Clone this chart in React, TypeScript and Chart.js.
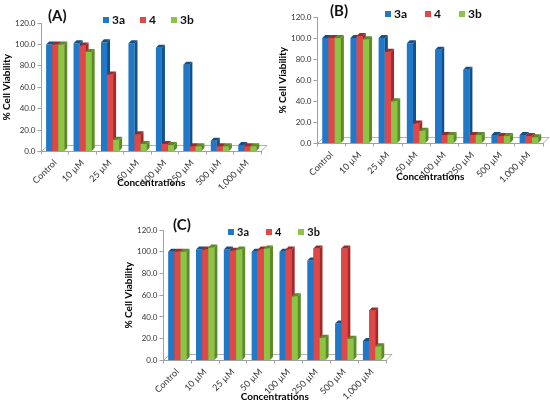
import { useEffect, useRef } from "react";
import { Chart, registerables } from "chart.js";

Chart.register(...registerables);

const CONCENTRATIONS = ["Control", "10 µM", "25 µM", "50 µM", "100 µM", "250 µM", "500 µM", "1,000 µM"];
const SERIES = ["3a", "4", "3b"];

// panel (A)
const A_3A = [100, 101, 102, 101, 97, 81, 10, 6];
const A_4 = [100, 99, 72, 16, 7, 5, 5, 5];
const A_3B = [100, 93, 11, 7, 6, 5, 5, 5];
// panel (B)
const B_3A = [100, 100, 100, 95, 89, 70, 8, 8];
const B_4 = [100, 102, 87, 19, 8, 8, 7, 7];
const B_3B = [100, 99, 40, 12, 8, 8, 7, 6];
// panel (C)
const C_3A = [100, 102, 102, 100, 100, 92, 34, 18];
const C_4 = [100, 102, 101, 102, 102, 103, 103, 46];
const C_3B = [100, 104, 102, 103, 59, 21, 20, 13];

const COLORS = ["#1f78c8", "#e04848", "#8cc443"];
const SIDES = ["#144f86", "#9e2a2a", "#5c8a28"];
const DEPTH = 3;

// fake 3D: right side and top face of each bar, drawn so the next series hides it
const depthPlugin = {
  id: "depth",
  beforeDatasetsDraw(chart: any) {
    const { ctx, chartArea } = chart;
    const { left, right, bottom } = chartArea;
    ctx.save();
    ctx.strokeStyle = "#b0b0b0";
    ctx.lineWidth = 1;
    ctx.beginPath();
    ctx.moveTo(left, bottom);
    ctx.lineTo(left + DEPTH * 2, bottom - DEPTH * 2);
    ctx.lineTo(right + DEPTH * 2, bottom - DEPTH * 2);
    ctx.lineTo(right, bottom);
    ctx.stroke();
    ctx.restore();
  },
  afterDatasetsDraw(chart: any) {
    const { ctx } = chart;
    const n = chart.data.datasets.length;
    for (let i = 0; i < n; i++) {
      const meta = chart.getDatasetMeta(i);
      ctx.save();
      ctx.fillStyle = SIDES[i];
      meta.data.forEach((bar: any) => {
        const { x, y, base, width } = bar.getProps(["x", "y", "base", "width"], true);
        const l = x - width / 2;
        const r = x + width / 2;
        ctx.beginPath();
        ctx.moveTo(r, y);
        ctx.lineTo(r + DEPTH, y - DEPTH);
        ctx.lineTo(r + DEPTH, base - DEPTH);
        ctx.lineTo(r, base);
        ctx.closePath();
        ctx.fill();
        ctx.beginPath();
        ctx.moveTo(l, y);
        ctx.lineTo(l + DEPTH, y - DEPTH);
        ctx.lineTo(r + DEPTH, y - DEPTH);
        ctx.lineTo(r, y);
        ctx.closePath();
        ctx.fill();
      });
      ctx.restore();
      if (i + 1 < n) {
        chart.getDatasetMeta(i + 1).data.forEach((bar: any) => bar.draw(ctx));
      }
    }
  },
};

type PanelProps = {
  label: string;
  values: number[][];
  box: { left: number; top: number; width: number; height: number };
  pad: { left: number; right: number; top: number; bottom: number };
  titleShift: number;
  labelPos: { left: number; top: number };
  legendPos: { left: number; top: number; size: number; gap: number };
};

function Panel({ label, values, box, pad, titleShift, labelPos, legendPos }: PanelProps) {
  const canvasRef = useRef<HTMLCanvasElement>(null);

  useEffect(() => {
    if (!canvasRef.current) return;
    const chart = new Chart(canvasRef.current, {
      type: "bar",
      data: {
        labels: CONCENTRATIONS,
        datasets: SERIES.map((name, i) => ({
          label: name,
          data: values[i],
          backgroundColor: COLORS[i],
          borderWidth: 0,
          barPercentage: 1,
          categoryPercentage: 0.66,
        })),
      },
      options: {
        responsive: false,
        animation: false,
        layout: { padding: pad },
        plugins: {
          legend: { display: false },
          tooltip: { enabled: false },
        },
        scales: {
          x: {
            offset: true,
            border: { color: "#a0a0a0" },
            grid: { drawOnChartArea: false, drawTicks: true, tickLength: 3, color: "#a0a0a0", offset: true },
            ticks: {
              autoSkip: false,
              minRotation: 45,
              maxRotation: 45,
              color: "#333",
              padding: 3,
              font: { family: "Lato", size: 9 },
            },
            title: {
              display: true,
              text: "Concentrations",
              color: "#000",
              padding: { top: titleShift, bottom: 0 },
              font: { family: "Lato", size: 10, weight: "bold" },
            },
          },
          y: {
            min: 0,
            max: 120,
            border: { color: "#a0a0a0" },
            grid: { drawOnChartArea: false, drawTicks: true, tickLength: 4, color: "#a0a0a0" },
            ticks: {
              stepSize: 20,
              color: "#333",
              padding: 2,
              font: { family: "Lato", size: 8 },
              callback: (v) => Number(v).toFixed(1),
            },
            title: {
              display: true,
              text: "% Cell Viability",
              color: "#000",
              padding: { top: 0, bottom: 0 },
              font: { family: "Lato", size: 10, weight: "bold" },
            },
          },
        },
      },
      plugins: [depthPlugin],
    });
    return () => chart.destroy();
  }, [values]);

  return (
    <>
      <canvas
        ref={canvasRef}
        width={box.width}
        height={box.height}
        style={{ position: "absolute", left: box.left, top: box.top, width: box.width, height: box.height }}
      />
      <div
        style={{
          position: "absolute",
          left: labelPos.left,
          top: labelPos.top,
          font: "bold 15px Lato",
          lineHeight: "18px",
          color: "#111",
        }}
      >
        {label}
      </div>
      <div
        style={{
          position: "absolute",
          left: legendPos.left,
          top: legendPos.top,
          display: "flex",
          alignItems: "center",
          gap: legendPos.gap,
          font: `bold ${legendPos.size}px Lato`,
          lineHeight: `${legendPos.size + 2}px`,
          color: "#111",
          whiteSpace: "nowrap",
        }}
      >
        {SERIES.map((name, i) => (
          <span key={name} style={{ display: "flex", alignItems: "center", gap: 3 }}>
            <span style={{ width: 6, height: 6, background: COLORS[i], display: "inline-block" }} />
            {name}
          </span>
        ))}
      </div>
    </>
  );
}

export default function App() {
  return (
    <div style={{ position: "fixed", left: 0, top: 0, width: 550, height: 404, background: "#fff", overflow: "hidden" }}>
      <Panel
        label="(A)"
        values={[A_3A, A_4, A_3B]}
        box={{ left: 0, top: 0, width: 275, height: 200 }}
        pad={{ left: 1, right: 14, top: 23, bottom: 11 }}
        titleShift={-19}
        labelPos={{ left: 48, top: 6 }}
        legendPos={{ left: 103, top: 13, size: 12, gap: 15 }}
      />
      <Panel
        label="(B)"
        values={[B_3A, B_4, B_3B]}
        box={{ left: 275, top: 0, width: 275, height: 200 }}
        pad={{ left: 2, right: 7, top: 17, bottom: 17 }}
        titleShift={-17}
        labelPos={{ left: 330, top: 1 }}
        legendPos={{ left: 385, top: 7, size: 12, gap: 18 }}
      />
      <Panel
        label="(C)"
        values={[C_3A, C_4, C_3B]}
        box={{ left: 120, top: 205, width: 278, height: 199 }}
        pad={{ left: 3, right: 12, top: 25, bottom: 1 }}
        titleShift={-14}
        labelPos={{ left: 173, top: 215 }}
        legendPos={{ left: 228, top: 225, size: 11, gap: 17 }}
      />
    </div>
  );
}
